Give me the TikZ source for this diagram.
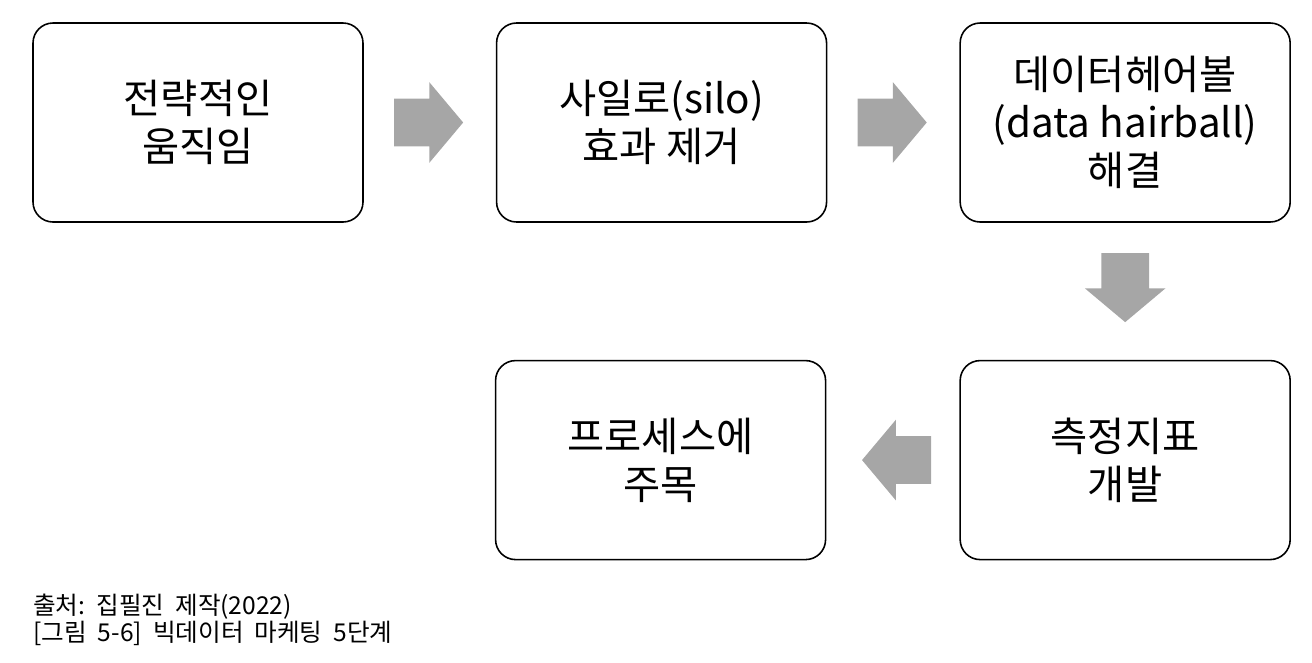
\documentclass[tikz,border=0pt]{standalone}
\usepackage{fontspec}
\setmainfont{Noto Sans CJK KR}
\usetikzlibrary{positioning,shapes.arrows}

\begin{document}
\begin{tikzpicture}[main/.style = {draw,line width=0.9pt,rounded corners=0.4cm,minimum width=6.6cm,minimum height=3.98cm,align=center,font=\fontsize{23}{27.3}\selectfont},
  grayarrow/.style = {single arrow,fill=black!35,draw=none,inner xsep=0pt,inner ysep=0.47cm,minimum height=1.38cm,single arrow head extend=0.33cm,single arrow tip angle=100,anchor=tail}]

\useasboundingbox (0,0) rectangle (26.24,-13.24);

\node[main] (s1) at (3.96,-2.45) {전략적인\\움직임};
\node[main] (s2) [right=2.64cm of s1] {사일로(silo)\\효과 제거};
\node[main] (s3) [right=2.64cm of s2] {데이터헤어볼\\(data hairball)\\해결};
\node[main] (s4) [below=2.74cm of s3] {측정지표\\개발};
\node[main] (s5) [left=2.66cm of s4] {프로세스에\\주목};

\node[grayarrow] (a1) at ([xshift=0.6cm]s1.east) {};
\node[grayarrow] (a2) at ([xshift=0.6cm]s2.east) {};
\node[grayarrow,shape border rotate=270,inner xsep=0.47cm,inner ysep=0pt] (a3) at ([yshift=-0.6cm]s3.south) {};
\node[grayarrow,shape border rotate=180] (a4) at ([xshift=-0.56cm]s4.west) {};

\node[anchor=west,align=left,inner sep=0pt,font=\fontsize{14}{15.6}\selectfont] (src) at (0.66,-12.4) {출처:\ \ 집필진\ \ 제작(2022)\\{[}그림\ \ 5-6]\ \ 빅데이터\ \ 마케팅\ \ 5단계};

\end{tikzpicture}
\end{document}
